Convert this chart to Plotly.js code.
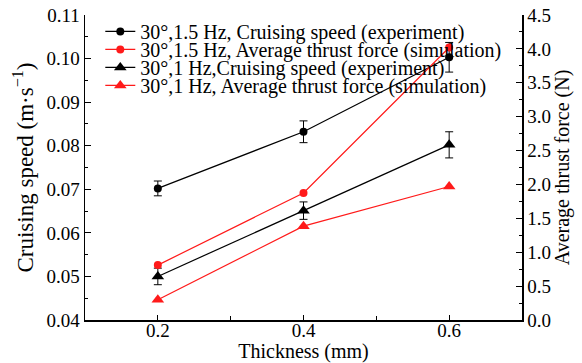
<!DOCTYPE html>
<html>
<head>
<meta charset="utf-8">
<script src="https://cdn.plot.ly/plotly-3.0.1.min.js"></script>
<style>html,body{margin:0;padding:0;background:#fff;}</style>
</head>
<body>
<div id="chart" style="width:582px;height:363px;"></div>
<script>
// Data
var thickness = [0.2, 0.4, 0.6];
var speed15Hz = [0.0702, 0.0832, 0.1003];
var speed15HzErr = [0.0017, 0.0025, 0.0034];
var thrust15Hz = [0.81, 1.875, 4.02];
var speed1Hz = [0.0500, 0.0651, 0.0802];
var speed1HzErr = [0.0019, 0.0020, 0.0030];
var thrust1Hz = [0.30, 1.385, 1.97];
var xTickVals = [0.2, 0.4, 0.6];
var xTickText = ['0.2', '0.4', '0.6'];
var seriesNames = [
  '30°,1.5 Hz, Cruising speed (experiment)',
  '30°,1.5 Hz, Average thrust force (simulation)',
  '30°,1 Hz,Cruising speed (experiment)',
  '30°,1 Hz, Average thrust force (simulation)'
];

var RED = '#ff1a1a';
var FONT = 'Liberation Serif';

var traces = [
  {
    x: thickness, y: speed15Hz, name: seriesNames[0], type: 'scatter', mode: 'lines+markers',
    line: {color: 'black', width: 1.2}, marker: {symbol: 'circle', size: 8, color: 'black'},
    error_y: {type: 'data', array: speed15HzErr, color: 'black', thickness: 1, width: 4},
    yaxis: 'y'
  },
  {
    x: thickness, y: thrust15Hz, name: seriesNames[1], type: 'scatter', mode: 'lines+markers',
    line: {color: RED, width: 1.2}, marker: {symbol: 'circle', size: 8, color: RED},
    yaxis: 'y2'
  },
  {
    x: thickness, y: speed1Hz, name: seriesNames[2], type: 'scatter', mode: 'lines+markers',
    line: {color: 'black', width: 1.2}, marker: {symbol: 'triangle-up', size: 11, color: 'black'},
    error_y: {type: 'data', array: speed1HzErr, color: 'black', thickness: 1, width: 4},
    yaxis: 'y'
  },
  {
    x: thickness, y: thrust1Hz, name: seriesNames[3], type: 'scatter', mode: 'lines+markers',
    line: {color: RED, width: 1.2}, marker: {symbol: 'triangle-up', size: 11, color: RED},
    yaxis: 'y2'
  }
];

var axisCommon = {
  showgrid: false, zeroline: false, showline: true, linecolor: 'black', linewidth: 1.5,
  ticks: 'inside', tickcolor: 'black', tickwidth: 1.2,
  tickfont: {family: FONT, size: 19, color: 'black'}
};

var layout = {
  width: 582, height: 363,
  margin: {l: 85, r: 60, t: 15, b: 43, pad: 0},
  paper_bgcolor: 'white', plot_bgcolor: 'white',
  font: {family: FONT, color: 'black'},
  showlegend: true,
  legend: {
    x: 0.035, y: 1.01, xanchor: 'left', yanchor: 'top',
    bgcolor: 'rgba(0,0,0,0)', borderwidth: 0,
    font: {family: FONT, size: 20, color: 'black'}
  },
  xaxis: Object.assign({}, axisCommon, {
    range: [0.1, 0.7], tickmode: 'array', tickvals: xTickVals, ticktext: xTickText,
    ticklen: 5, ticklabelstandoff: -7,
    minor: {tickmode: 'array', tickvals: [0.3, 0.5], ticks: 'inside', ticklen: 4, tickcolor: 'black', tickwidth: 1},
    title: {text: 'Thickness (mm)', font: {family: FONT, size: 20, color: 'black'}, standoff: 0}
  }),
  yaxis: Object.assign({}, axisCommon, {
    range: [0.04, 0.11], dtick: 0.01, tick0: 0.04, tickformat: '.2f', ticklen: 6,
    minor: {dtick: 0.005, ticks: 'inside', ticklen: 3, tickcolor: 'black', tickwidth: 1},
    title: {text: 'Cruising speed (m·s<sup>−1</sup>)', font: {family: FONT, size: 23, color: 'black'}, standoff: 6}
  }),
  yaxis2: Object.assign({}, axisCommon, {
    overlaying: 'y', side: 'right',
    range: [0, 4.5], dtick: 0.5, tick0: 0, tickformat: '.1f', ticklen: 6,
    minor: {dtick: 0.25, ticks: 'inside', ticklen: 3, tickcolor: 'black', tickwidth: 1},
    title: {text: 'Average thrust force (N)', font: {family: FONT, size: 20, color: 'black'}, standoff: 3}
  })
};

Plotly.newPlot('chart', traces, layout, {displayModeBar: false, staticPlot: true}).then(function () {
  // tighten legend row spacing to match the reference
  var items = document.querySelectorAll('.legend .traces');
  if (!items.length) return;
  var m = /translate\(\s*([-\d.]+)[ ,]+([-\d.]+)\s*\)/.exec(items[0].getAttribute('transform') || '');
  if (!m) return;
  var x0 = parseFloat(m[1]), y0 = parseFloat(m[2]);
  for (var i = 0; i < items.length; i++) {
    items[i].setAttribute('transform', 'translate(' + x0 + ',' + (y0 + i * 18) + ')');
  }
});
</script>
</body>
</html>
